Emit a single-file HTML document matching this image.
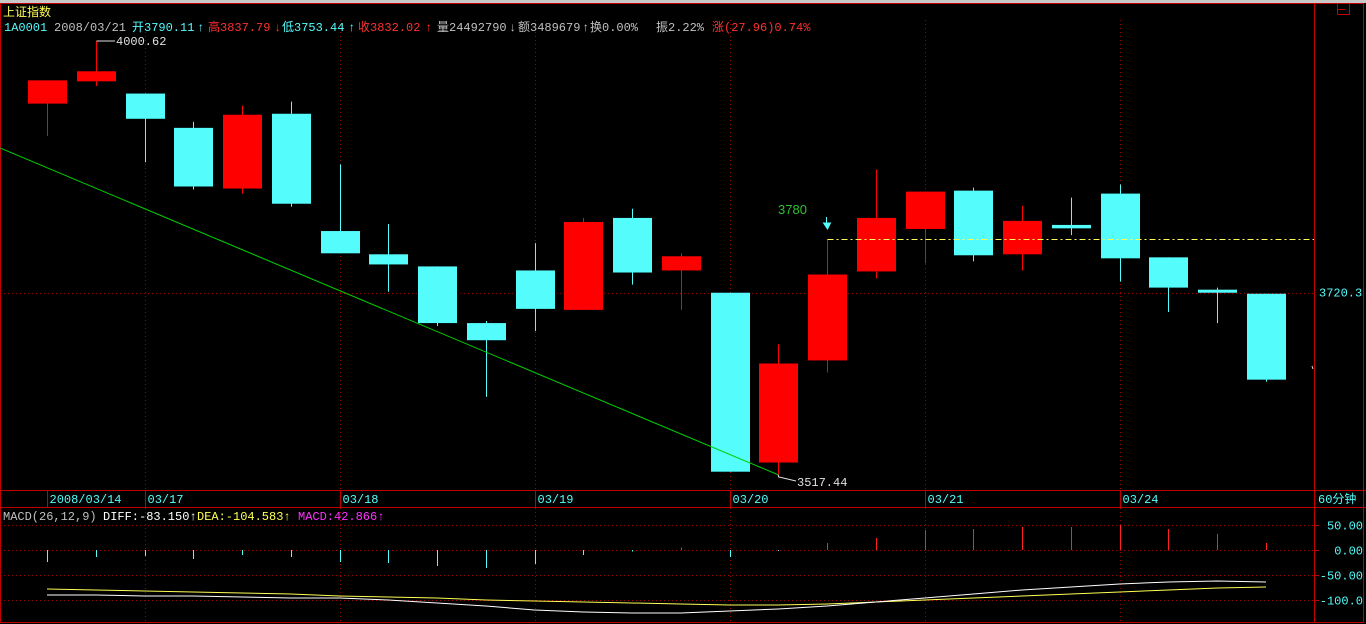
<!DOCTYPE html>
<html><head><meta charset="utf-8"><style>
html,body{margin:0;padding:0;background:#000;}
svg{display:block;}
text{font-family:"Liberation Mono","Noto Sans CJK SC",monospace;font-size:12px;}
</style></head><body>
<svg id="chart" width="1366" height="624" viewBox="0 0 1366 624" xmlns="http://www.w3.org/2000/svg">
<rect x="0" y="0" width="1366" height="624" fill="#000"/>
<rect x="0" y="0" width="1366" height="3" fill="#c8c8c8"/>
<g id="frame" stroke="#c00000" fill="none" stroke-width="1">
<rect x="0.5" y="3.5" width="1363" height="619"/>
<line x1="1314.5" y1="3" x2="1314.5" y2="623"/>
<line x1="0" y1="490.5" x2="1366" y2="490.5"/>
<line x1="0" y1="507.5" x2="1366" y2="507.5"/>
<rect x="1337.5" y="3.5" width="12" height="11"/>
<line x1="1337" y1="9.5" x2="1345" y2="9.5"/>
</g>
<g id="grid"></g>
<text x="3" y="16" fill="#ffff54" font-size="13">上证指数</text>
<text y="31">
<tspan x="4" fill="#54fcfc">1A0001</tspan><tspan x="54" fill="#c0c0c0">2008/03/21</tspan>
<tspan x="132" fill="#54fcfc">开3790.11</tspan><tspan x="197" fill="#54fcfc">↑</tspan>
<tspan x="208" fill="#ff3030">高3837.79</tspan><tspan x="274" fill="#ff3030">↓</tspan>
<tspan x="282" fill="#54fcfc">低3753.44</tspan><tspan x="348" fill="#54fcfc">↑</tspan>
<tspan x="358" fill="#ff3030">收3832.02</tspan><tspan x="425" fill="#ff3030">↑</tspan>
<tspan x="437" fill="#c0c0c0">量24492790</tspan><tspan x="509" fill="#c0c0c0">↓</tspan>
<tspan x="518" fill="#c0c0c0">额3489679</tspan><tspan x="582" fill="#c0c0c0">↑</tspan>
<tspan x="590" fill="#c0c0c0">换0.00%</tspan><tspan x="656" fill="#c0c0c0">振2.22%</tspan>
<tspan x="712" fill="#ff3030">涨(27.96)0.74%</tspan></text>
<g id="candles"></g>
<g id="annot"></g>
<g id="dates"></g>
<text x="1318" y="503" fill="#54fcfc">60分钟</text>
<text y="520" font-size="11">
<tspan x="3" fill="#c0c0c0">MACD(26,12,9)</tspan><tspan x="103" fill="#ffffff">DIFF:-83.150↑</tspan><tspan x="197" fill="#ffff54">DEA:-104.583↑</tspan><tspan x="298" fill="#ff30ff">MACD:42.866↑</tspan></text>
<g id="macd"></g>
</svg>
<script>
const dates=["2008/03/14","03/17","03/18","03/19","03/20","03/21","03/24"];
const dateIdx=[0,2,6,10,14,18,22];
const opens=[3930.9,3955.7,3942.1,3903.9,3836.3,3919.6,3789,3763.1,3749.6,3686.5,3745.1,3701.2,3803.6,3745.1,3720.3,3531.2,3644.9,3744,3791.3,3834,3763.1,3795.8,3830.7,3759.7,3723.7,3719.2];
const highs=[3956.8,4000.62,3942.1,3910.6,3928.6,3933.1,3863.3,3796.9,3749.6,3688.8,3775.5,3803.6,3813.8,3764.2,3720.3,3662.9,3780,3857.7,3832.9,3837.4,3817.2,3826.2,3840.8,3759.7,3726,3719.2];
const lows=[3894.9,3950.5,3865.6,3835.2,3830.7,3816,3764.2,3721.4,3683.2,3604.3,3677.5,3701.2,3729.3,3701.2,3521,3517.44,3631.4,3736.1,3753,3755.2,3745.1,3784.5,3732.7,3698.9,3686.5,3621.2];
const closes=[3956.8,3966.9,3914,3838.6,3918.5,3819.4,3764.2,3751.8,3686.5,3667.4,3702.3,3799.1,3742.8,3760.9,3521,3641.5,3740.6,3803.6,3832.9,3762,3800.3,3792,3758.6,3726,3720.3,3623.5];
const macdHist=[-24,-14,-12,-18,-10,-14,-24,-26,-32,-36,-28,-10,-3,5,-14,-2,14,24,40,42,46,46,50,42,32,14];
const diffVals=[-90,-90,-92,-92,-94,-96,-96,-100,-106,-112,-120,-124,-126,-126,-122,-118,-112,-104,-96,-88,-80,-74,-68,-64,-62,-64];
const deaVals=[-78,-80,-82,-84,-86,-88,-92,-94,-96,-100,-102,-104,-106,-108,-110,-110,-108,-104,-100,-96,-92,-88,-84,-80,-76,-74];
const macdTicks=[50,0,-50,-100];
const macdTickLabels=["50.00","0.00","-50.00","-100.0"];
const refPrice=3720.3, markPrice=3780, hiPrice=4000.62, loPrice=3517.44;

const NS="http://www.w3.org/2000/svg";
function xs(i){return 47+i*(1266-47)/25;}
function ys(p){return 41+(hiPrice-p)*0.898;}
function ym(v){return 550-v*0.5;}
function mk(tag,attrs,parent){const e=document.createElementNS(NS,tag);for(const k in attrs)e.setAttribute(k,attrs[k]);parent.appendChild(e);return e;}
const grid=document.getElementById('grid'),cg=document.getElementById('candles'),an=document.getElementById('annot'),dg=document.getElementById('dates'),mg=document.getElementById('macd');
const gs={stroke:"#a00000","stroke-dasharray":"1,3","stroke-width":1};
dateIdx.forEach((di,k)=>{
  if(k>0){
  const x=Math.round(xs(di))+0.5;
  let l=mk('line',Object.assign({x1:x,y1:20,x2:x,y2:490},gs),grid);
  
  
  let l2=mk('line',Object.assign({x1:x,y1:508,x2:x,y2:622},gs),grid);
  
  
  }
  const xt=Math.round(xs(di))+0.5;
  let t=mk('line',{x1:xt,y1:491,x2:xt,y2:507,stroke:"#c00000"},dg);
  
  
  let tx=mk('text',{x:xt+2,y:503,fill:"#54fcfc"},dg);
  tx.textContent=dates[k];
  
  
});
let hl=mk('line',Object.assign({x1:0,y1:Math.round(ys(refPrice))+0.5,x2:1314,y2:Math.round(ys(refPrice))+0.5},gs),grid);


let rl=mk('text',{x:1319,y:ys(refPrice)+4,fill:"#54fcfc"},grid);
rl.textContent=refPrice.toFixed(1);


macdTicks.forEach((v,i)=>{
  const y=Math.round(ym(v))+0.5;
  let l=mk('line',Object.assign({x1:0,y1:y,x2:1314,y2:y},gs),grid);
  
  
  mk('line',{x1:1314,y1:y,x2:1319,y2:y,stroke:"#c00000"},grid);
  let t=mk('text',{x:1363,y:y+4,fill:"#54fcfc","text-anchor":"end"},grid);
  t.textContent=macdTickLabels[i];
  
  
});
// trend line
let tl=mk('line',{x1:0,y1:148,x2:xs(15),y2:ys(loPrice),stroke:"#00d000","stroke-width":1},an);


// candles
opens.forEach((o,i)=>{
  const c=closes[i],up=c>=o,col=up?"#ff0000":"#54fcfc",x=xs(i);
  const g=mk('g',{},cg);
  
  
  mk('line',{x1:Math.round(x)+0.5,y1:ys(highs[i]),x2:Math.round(x)+0.5,y2:ys(lows[i]),stroke:col},g);
  const t=ys(Math.max(o,c)),b=ys(Math.min(o,c));
  mk('rect',{x:Math.round(x)-19,y:t,width:39,height:Math.max(2,b-t),fill:col},g);
});
// annotations
const x2=Math.round(xs(1))+0.5;
mk('polyline',{points:`${x2},${ys(hiPrice)} ${x2},41 115,41`,stroke:"#e0e0e0",fill:"none"},an);
let hiT=mk('text',{x:116,y:45,fill:"#e0e0e0"},an);hiT.textContent=hiPrice.toFixed(2);


const xl=xs(15);
mk('polyline',{points:`${xl},${ys(loPrice)} ${xl},${ys(loPrice)+2} 796,481`,stroke:"#e0e0e0",fill:"none"},an);
let loT=mk('text',{x:797,y:486,fill:"#e0e0e0"},an);loT.textContent=loPrice.toFixed(2);


const xm=Math.round(xs(16))+0.5, ymk=Math.round(ys(markPrice))+0.5;
let dl=mk('line',{x1:xm,y1:ymk,x2:1314,y2:ymk,stroke:"#ffff54","stroke-dasharray":"6,3,2,3"},an);


let mt=mk('text',{x:778,y:214,fill:"#30c030",style:"font-family:'Liberation Sans',sans-serif;font-size:13px"},an);mt.textContent=String(markPrice);


let ar=mk('path',{d:`M${xm-1} 217 V224 M${xm-4} 223 L${xm} 229 L${xm+3} 223 Z`,stroke:"#54fcfc",fill:"#54fcfc"},an);


mk('line',{x1:1312,y1:366,x2:1313,y2:369,stroke:"#e0e0e0"},an);
// macd
macdHist.forEach((v,i)=>{
  const x=Math.round(xs(i))+0.5;
  let b=mk('line',{x1:x,y1:ym(0),x2:x,y2:ym(v),stroke:v>=0?"#ff2020":"#54fcfc"},mg);
  
  
});
let dp=mk('polyline',{points:deaVals.map((v,i)=>xs(i)+','+ym(v)).join(' '),stroke:"#ffff54",fill:"none"},mg);


let fp=mk('polyline',{points:diffVals.map((v,i)=>xs(i)+','+ym(v)).join(' '),stroke:"#ffffff",fill:"none"},mg);


</script>
</body></html>
